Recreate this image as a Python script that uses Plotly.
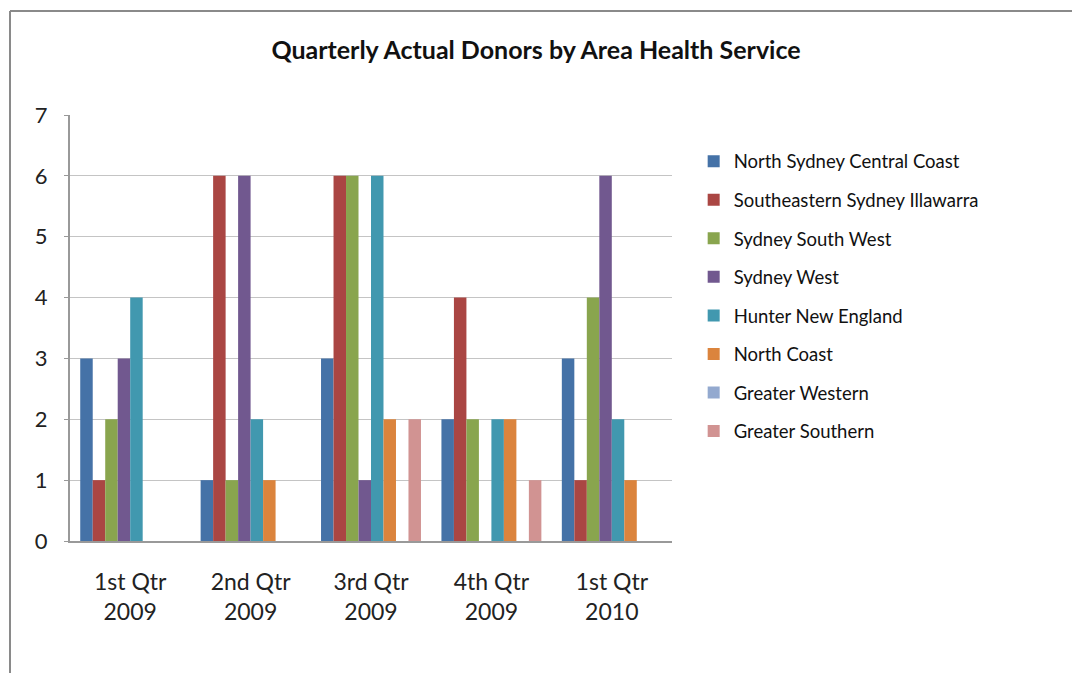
import plotly.graph_objects as go

# Quarters on the x axis
quarters = ["1st Qtr<br>2009", "2nd Qtr<br>2009", "3rd Qtr<br>2009", "4th Qtr<br>2009", "1st Qtr<br>2010"]

# Donors per area health service, one value per quarter
north_sydney_cc = [3, 1, 3, 2, 3]
southeastern_si = [1, 6, 6, 4, 1]
sydney_south_west = [2, 1, 6, 2, 4]
sydney_west = [3, 6, 1, 0, 6]
hunter_new_england = [4, 2, 6, 2, 2]
north_coast = [0, 1, 2, 2, 1]
greater_western = [0, 0, 0, 0, 0]
greater_southern = [0, 0, 2, 1, 0]

series = [
    ("North Sydney Central Coast", north_sydney_cc, "#4572A7"),
    ("Southeastern Sydney Illawarra", southeastern_si, "#AA4643"),
    ("Sydney South West", sydney_south_west, "#89A54E"),
    ("Sydney West", sydney_west, "#71588F"),
    ("Hunter New England", hunter_new_england, "#4198AF"),
    ("North Coast", north_coast, "#DB843D"),
    ("Greater Western", greater_western, "#93A9CF"),
    ("Greater Southern", greater_southern, "#D19392"),
]

font_family = "Lato, 'Open Sans', sans-serif"

fig = go.Figure()
for name, vals, col in series:
    fig.add_trace(go.Bar(
        x=quarters, y=vals, name=name,
        marker=dict(color=col, line=dict(width=0)),
        legendgroup=name,
    ))

fig.update_layout(
    width=1072, height=673,
    paper_bgcolor="white", plot_bgcolor="white",
    margin=dict(l=70, r=400, t=115, b=132),
    barmode="group", bargap=0.17, bargroupgap=0,
    font=dict(family=font_family, color="#222222"),
    title=dict(text="<b>Quarterly Actual Donors by Area Health Service</b>",
               x=0.5, xanchor="center", y=0.925, yanchor="middle",
               font=dict(size=25, color="#111111")),
    showlegend=True,
    legend=dict(x=1.036, y=0.935, xanchor="left", yanchor="top",
                font=dict(size=18.5, color="#111111"),
                tracegroupgap=11.5, itemwidth=30,
                bgcolor="rgba(0,0,0,0)"),
)

fig.update_yaxes(range=[0, 7], dtick=1, showgrid=True, gridcolor="#C4C4C4", gridwidth=1,
                 showline=True, linecolor="#999999", linewidth=2,
                 ticks="outside", ticklen=4, tickcolor="#999999",
                 ticklabelstandoff=12,
                 tickfont=dict(size=22, color="#222222"), zeroline=False)
fig.update_xaxes(showline=True, linecolor="#999999", linewidth=2,
                 ticks="outside", ticklen=19, tickcolor="rgba(0,0,0,0)",
                 tickfont=dict(size=23, color="#222222"))

# Chart border (top and left edges visible)
fig.add_shape(type="line", xref="paper", yref="paper",
              x0=(10 - 70) / 602, x1=(1072 - 70) / 602,
              y0=1 + (115 - 11) / 426, y1=1 + (115 - 11) / 426,
              line=dict(color="#8A8A8A", width=2))
fig.add_shape(type="line", xref="paper", yref="paper",
              x0=(10 - 70) / 602, x1=(10 - 70) / 602,
              y0=1 + (115 - 11) / 426, y1=-132 / 426,
              line=dict(color="#8A8A8A", width=2))

fig.write_html("out.html", config={"displayModeBar": False},
               post_script="document.body.style.margin='0';")
